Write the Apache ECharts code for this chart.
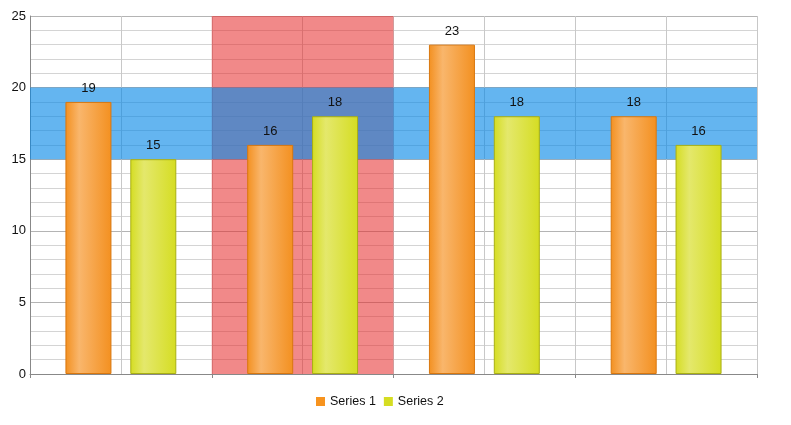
<!DOCTYPE html>
<html>
<head>
<meta charset="utf-8">
<script src="https://cdn.jsdelivr.net/npm/echarts@6/dist/echarts.min.js"></script>
<style>
  html, body { margin: 0; padding: 0; background: #fff; }
  #chart { width: 791px; height: 425px; }
</style>
</head>
<body>
<div id="chart"></div>
<script>
const categories = ['Category 1', 'Category 2', 'Category 3', 'Category 4'];
const series1 = [19, 16, 23, 18];
const series2 = [15, 18, 18, 16];
const seriesNames = ['Series 1', 'Series 2'];
const yTicks = { min: 0, max: 25, interval: 5 };
// highlighted ranges: column band over the 2nd category, row band 15..20
const columnBand = [1, 2];
const rowBand = [15, 20];

function barGradient(edge, light) {
  return new echarts.graphic.LinearGradient(0, 0, 1, 0, [
    { offset: 0, color: edge },
    { offset: 0.3, color: light },
    { offset: 1, color: edge },
  ]);
}

const chart = echarts.init(document.getElementById('chart'));

chart.setOption({
  animation: false,
  backgroundColor: '#fff',
  textStyle: { fontFamily: 'Arial, "Liberation Sans", sans-serif' },
  grid: { left: 30, right: 34, top: 16, bottom: 51 },
  legend: {
    bottom: 12,
    left: 311,
    itemWidth: 9,
    itemHeight: 9,
    itemGap: 8,
    icon: 'rect',
    textStyle: { color: '#111', fontSize: 12.5 },
    data: [
      { name: seriesNames[0], itemStyle: { color: '#f7931e', borderWidth: 0 } },
      { name: seriesNames[1], itemStyle: { color: '#d5dd22', borderWidth: 0 } },
    ],
  },
  xAxis: [
    {
      type: 'category',
      data: categories,
      axisLine: { lineStyle: { color: '#888' } },
      axisTick: { show: true, length: 4, lineStyle: { color: '#888' } },
      axisLabel: { show: false },
      splitLine: { show: false },
    },
    {
      type: 'value',
      min: 0,
      max: categories.length,
      interval: 0.5,
      position: 'bottom',
      axisLine: { show: false },
      axisTick: { show: false },
      axisLabel: { show: false },
      splitLine: { show: true, lineStyle: { color: '#c8c8c8' } },
    },
  ],
  yAxis: {
    type: 'value',
    min: yTicks.min,
    max: yTicks.max,
    interval: yTicks.interval,
    axisLine: { show: true, lineStyle: { color: '#888' } },
    axisTick: { show: false },
    axisLabel: { color: '#111', fontSize: 13, margin: 4 },
    splitLine: { show: true, lineStyle: { color: '#b4b4b4' } },
    minorTick: { show: false, splitNumber: 5 },
    minorSplitLine: { show: true, lineStyle: { color: '#d4d4d4' } },
  },
  series: [
    {
      name: 'bands',
      type: 'line',
      xAxisIndex: 1,
      data: [],
      z: 1,
      silent: true,
      markArea: {
        silent: true,
        data: [
          [
            { xAxis: columnBand[0], itemStyle: { color: 'rgba(230, 40, 40, 0.55)' } },
            { xAxis: columnBand[1] },
          ],
          [
            { yAxis: rowBand[0], itemStyle: { color: 'rgba(5, 135, 231, 0.62)' } },
            { yAxis: rowBand[1] },
          ],
        ],
      },
    },
    {
      name: seriesNames[0],
      type: 'bar',
      data: series1,
      barWidth: 46,
      barGap: '41%',
      z: 3,
      itemStyle: {
        color: barGradient('#f39020', '#f9b66c'),
        borderColor: '#d9770e',
        borderWidth: 1,
      },
      label: { show: true, position: 'top', distance: 7, color: '#111', fontSize: 13 },
    },
    {
      name: seriesNames[1],
      type: 'bar',
      data: series2,
      barWidth: 46,
      z: 3,
      itemStyle: {
        color: barGradient('#d5dd22', '#e4e86c'),
        borderColor: '#a9b012',
        borderWidth: 1,
      },
      label: { show: true, position: 'top', distance: 7, color: '#111', fontSize: 13 },
    },
  ],
});
</script>
</body>
</html>
